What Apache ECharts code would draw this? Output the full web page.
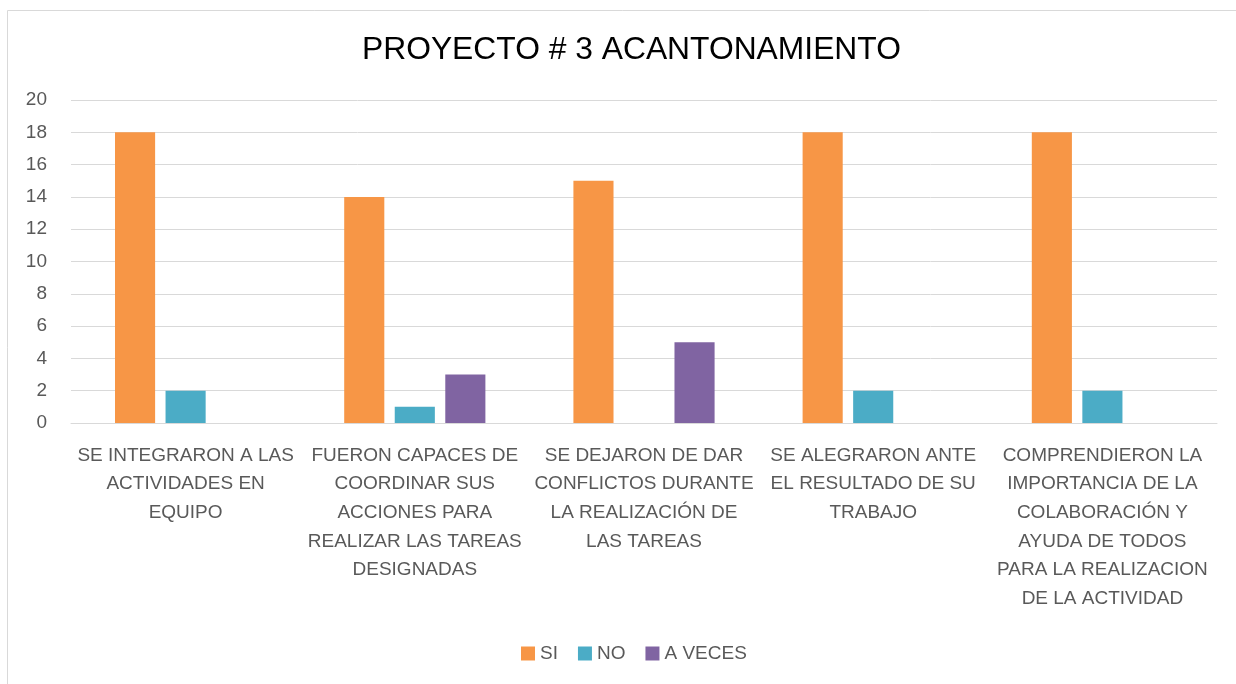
<!DOCTYPE html>
<html>
<head>
<meta charset="utf-8">
<script src="https://cdn.jsdelivr.net/npm/echarts@6/dist/echarts.min.js"></script>
<style>
  html, body { margin: 0; padding: 0; background: #fff; }
  #chart { width: 1236px; height: 684px; }
</style>
</head>
<body>
<div id="chart"></div>
<script>
const categories = [
  'SE INTEGRARON A LAS\nACTIVIDADES EN\nEQUIPO',
  'FUERON CAPACES DE\nCOORDINAR SUS\nACCIONES PARA\nREALIZAR LAS TAREAS\nDESIGNADAS',
  'SE DEJARON DE DAR\nCONFLICTOS DURANTE\nLA REALIZACIÓN DE\nLAS TAREAS',
  'SE ALEGRARON ANTE\nEL RESULTADO DE SU\nTRABAJO',
  'COMPRENDIERON LA\nIMPORTANCIA DE LA\nCOLABORACIÓN Y\nAYUDA DE TODOS\nPARA LA REALIZACION\nDE LA ACTIVIDAD'
];
const si = [18, 14, 15, 18, 18];
const no = [2, 1, null, 2, 2];
const aVeces = [null, 3, 5, null, null];

const font = '"Liberation Sans", Arial, sans-serif';
const textColor = '#595959';

const chart = echarts.init(document.getElementById('chart'));
chart.setOption({
  animation: false,
  color: ['#F79646', '#4BACC6', '#8064A2'],
  title: {
    text: 'PROYECTO # 3 ACANTONAMIENTO',
    left: 357,
    top: 29,
    textStyle: { fontFamily: font, fontSize: 31.8, fontWeight: 'normal', color: '#000' }
  },
  graphic: [{
    type: 'rect',
    shape: { x: 7.5, y: 10.5, width: 1240, height: 690 },
    style: { fill: 'none', stroke: '#d9d9d9', lineWidth: 1 },
    silent: true
  }],
  legend: {
    bottom: 16,
    left: 516,
    itemWidth: 14,
    itemHeight: 14,
    itemGap: 20,
    icon: 'rect',
    textStyle: { fontFamily: font, fontSize: 19, color: textColor },
    data: ['SI', 'NO', 'A VECES']
  },
  grid: { left: 71, right: 19, top: 100, bottom: 261 },
  xAxis: {
    type: 'category',
    data: categories,
    axisTick: { show: false },
    axisLine: { lineStyle: { color: '#d9d9d9', width: 1 } },
    axisLabel: {
      interval: 0,
      margin: 18,
      fontFamily: font,
      fontSize: 19,
      lineHeight: 28.7,
      color: textColor
    }
  },
  yAxis: {
    type: 'value',
    min: 0,
    max: 20,
    interval: 2,
    axisLine: { show: false },
    axisTick: { show: false },
    splitLine: { lineStyle: { color: '#d9d9d9', width: 1 } },
    axisLabel: { margin: 24, fontFamily: font, fontSize: 19, color: textColor }
  },
  series: [
    { name: 'SI', type: 'bar', data: si, barGap: '26%', barCategoryGap: '38.4%' },
    { name: 'NO', type: 'bar', data: no },
    { name: 'A VECES', type: 'bar', data: aVeces }
  ]
});
</script>
</body>
</html>
